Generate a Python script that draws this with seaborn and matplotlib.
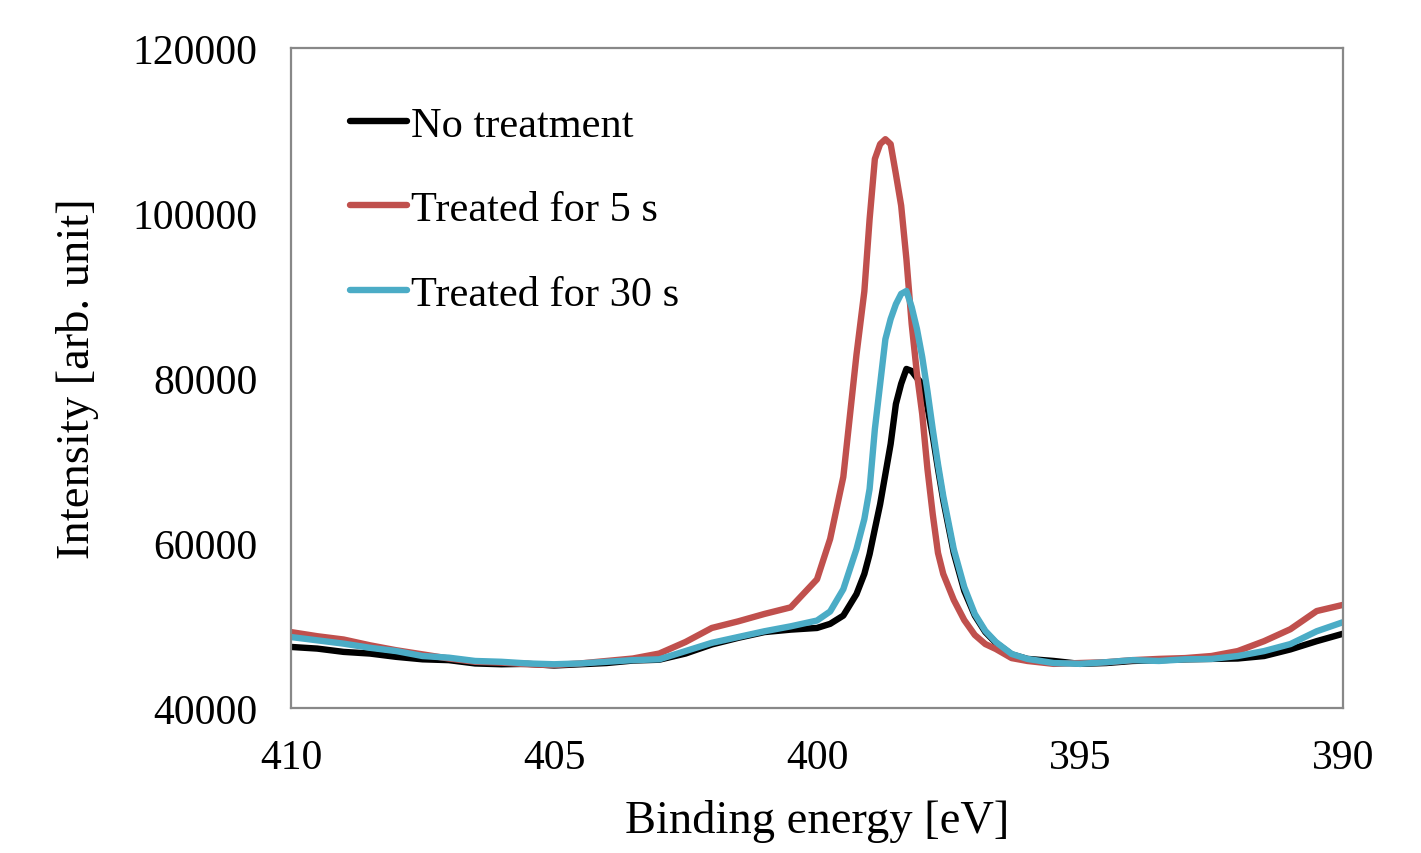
import numpy as np
import pandas as pd
import matplotlib
matplotlib.use("Agg")
import matplotlib.pyplot as plt
import seaborn as sns

# ---------------------------------------------------------------------------
# Data
# ---------------------------------------------------------------------------
energy = [
    410.0, 409.5, 409.0, 408.5, 408.0, 407.5, 407.0, 406.5, 406.0, 405.5,
    405.0, 404.5, 404.0, 403.5, 403.0, 402.5, 402.0, 401.5, 401.0, 400.5,
    400.0, 399.75, 399.5, 399.25, 399.1, 399.0, 398.9, 398.8, 398.7, 398.6,
    398.5, 398.4, 398.3, 398.2, 398.1, 398.0, 397.9, 397.8, 397.7, 397.6,
    397.4, 397.2, 397.0, 396.8, 396.6, 396.3, 396.0, 395.5, 395.0, 394.5,
    394.0, 393.5, 393.0, 392.5, 392.0, 391.5, 391.0, 390.5, 390.0,
]

no_treatment = [
    47400, 47200, 46800, 46600, 46200, 45900, 45800, 45400, 45300, 45350,
    45150, 45300, 45450, 45750, 45850, 46600, 47700, 48500, 49200, 49500,
    49700, 50200, 51200, 53800, 56250, 58650, 61700, 64700, 68350, 72000,
    76850, 79300, 81100, 80850, 80000, 79300, 76500, 73000, 69000, 65200,
    58800, 54200, 51200, 49200, 47900, 46500, 45950, 45700, 45350, 45450,
    45700, 45800, 45900, 45950, 46000, 46300, 47100, 48100, 49000,
]

treated_5s = [
    49200, 48700, 48300, 47600, 47000, 46500, 46000, 45600, 45500, 45300,
    45200, 45400, 45700, 46000, 46600, 48000, 49700, 50500, 51400, 52200,
    55600, 60500, 68000, 82800, 90500, 99250, 106550, 108350, 108950, 108350,
    104700, 100900, 94400, 86550, 80500, 75650, 68950, 63500, 58800, 56250,
    53100, 50650, 48850, 47750, 47150, 46050, 45700, 45350, 45450, 45550,
    45800, 45950, 46050, 46300, 46900, 48100, 49550, 51750, 52500,
]

treated_30s = [
    48600, 48200, 47800, 47300, 46900, 46300, 46100, 45700, 45600, 45400,
    45300, 45400, 45600, 45800, 45900, 46900, 47900, 48600, 49300, 49900,
    50600, 51700, 54400, 59250, 62900, 66550, 73800, 79250, 84700, 87150,
    88950, 90200, 90550, 88600, 85950, 82550, 78400, 73800, 69550, 65700,
    59250, 54650, 51400, 49350, 48000, 46550, 45950, 45450, 45350, 45550,
    45800, 45700, 45900, 45950, 46300, 46900, 47750, 49300, 50400,
]

series_names = ["No treatment", "Treated for 5 s", "Treated for 30 s"]
series_colors = ["#000000", "#C0504D", "#4BACC6"]


def main():
    df = pd.concat([
        pd.DataFrame({"energy": energy, "intensity": vals, "sample": name})
        for name, vals in zip(series_names, [no_treatment, treated_5s, treated_30s])
    ], ignore_index=True)

    sns.set_style("white")
    plt.rcParams["font.family"] = ["Liberation Serif", "DejaVu Serif"]
    plt.rcParams["text.color"] = "black"
    plt.rcParams["xtick.labelcolor"] = "black"
    plt.rcParams["ytick.labelcolor"] = "black"
    plt.rcParams["axes.labelcolor"] = "black"

    fig = plt.figure(figsize=(14.21, 8.54), dpi=100)
    ax = fig.add_axes([0.2048, 0.1698, 0.7403, 0.7728])

    lw = 4.6
    sns.lineplot(
        data=df, x="energy", y="intensity", hue="sample",
        hue_order=series_names,
        palette=dict(zip(series_names, series_colors)),
        estimator=None, sort=False, linewidth=lw, ax=ax,
    )

    ax.set_xlim(410, 390)
    ax.set_ylim(40000, 120000)
    ax.set_xticks([410, 405, 400, 395, 390])
    ax.set_yticks([40000, 60000, 80000, 100000, 120000])

    ax.set_xlabel("Binding energy [eV]", fontsize=33.5)
    ax.set_ylabel("Intensity [arb. unit]", fontsize=33.5)
    ax.xaxis.set_label_coords(0.5, -0.138)
    ax.yaxis.set_label_coords(-0.183, 0.5)

    ax.tick_params(axis="x", direction="in", length=9, width=1.5,
                   color="#888888", labelsize=30, pad=22, top=False)
    ax.tick_params(axis="y", length=0, labelsize=30, pad=24)
    for sp in ax.spines.values():
        sp.set_color("#888888")
        sp.set_linewidth(1.6)

    old = ax.get_legend()
    handles = old.legend_handles
    labels = [t.get_text() for t in old.texts]
    for h in handles:
        h.set_linewidth(lw)
    ax.legend(handles, labels, loc="upper left", bbox_to_anchor=(0.056, 0.912),
              frameon=False, fontsize=30.5, handlelength=1.35, handletextpad=0.1,
              labelspacing=1.08, borderpad=0, borderaxespad=0)

    fig.savefig("out.png", dpi=100)
    plt.close(fig)


if __name__ == "__main__":
    main()
